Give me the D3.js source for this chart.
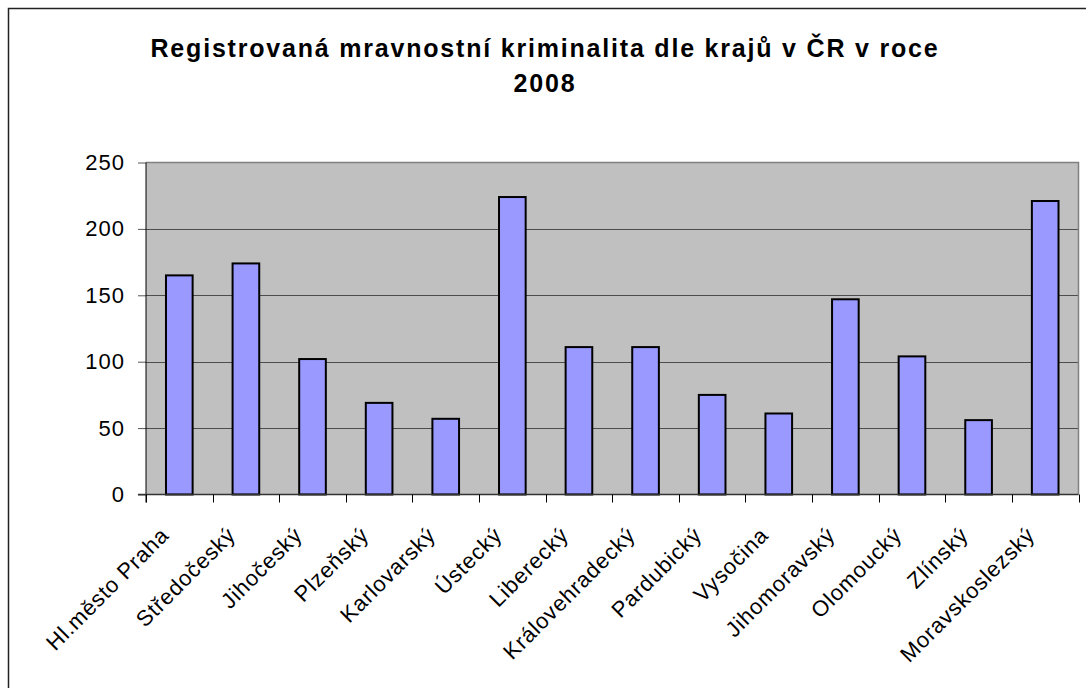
<!DOCTYPE html>
<html>
<head>
<meta charset="utf-8">
<script src="https://cdn.jsdelivr.net/npm/d3@7"></script>
<style>
  body { margin: 0; background: #fff; }
  svg { display: block; }
</style>
</head>
<body>
<div id="chart"></div>
<script>
// data
const regions = ["Hl.město Praha", "Středočeský", "Jihočeský", "Plzeňský", "Karlovarský",
  "Ústecký", "Liberecký", "Královehradecký", "Pardubický", "Vysočina",
  "Jihomoravský", "Olomoucký", "Zlínský", "Moravskoslezský"];
const cases = [165, 174, 102, 69, 57, 224, 111, 111, 75, 61, 147, 104, 56, 221];
const yTicks = [0, 50, 100, 150, 200, 250];
const titleLines = ["Registrovaná mravnostní kriminalita dle krajů v ČR v roce", "2008"];

const width = 1086, height = 688;
const plot = { left: 146, right: 1078.5, top: 162.5, bottom: 494.5 };
const font = "Arial, 'Liberation Sans', sans-serif";

const svg = d3.select("#chart").append("svg")
    .attr("width", width)
    .attr("height", height);

// outer chart frame (runs off the right / bottom edge)
svg.append("rect")
    .attr("x", 8.5).attr("y", 8.5)
    .attr("width", 1100).attr("height", 700)
    .attr("fill", "#fff")
    .attr("stroke", "#222")
    .attr("stroke-width", 1.5);

// title
svg.append("text")
    .attr("text-anchor", "middle")
    .style("font-family", font)
    .style("font-weight", "bold")
    .style("font-size", "25px")
    .style("letter-spacing", "1.8px")
    .selectAll("tspan")
    .data(titleLines)
  .enter().append("tspan")
    .attr("x", 545)
    .attr("y", (d, i) => 57 + i * 35)
    .text(d => d);

var x = d3.scaleBand()
    .domain(regions)
    .range([plot.left, plot.right])
    .paddingInner(0.6)
    .paddingOuter(0.3);

var xCat = d3.scaleBand()
    .domain(regions)
    .range([plot.left, plot.right]);

var y = d3.scaleLinear()
    .domain([0, 250])
    .range([plot.bottom, plot.top]);

// plot area
svg.append("rect")
    .attr("x", plot.left).attr("y", plot.top)
    .attr("width", plot.right - plot.left)
    .attr("height", plot.bottom - plot.top)
    .attr("fill", "#c0c0c0");

// gridlines
svg.append("g")
    .selectAll("line")
    .data(yTicks.filter(t => t > 0 && t < 250))
  .enter().append("line")
    .attr("x1", plot.left).attr("x2", plot.right)
    .attr("y1", d => Math.round(y(d)) + 0.5)
    .attr("y2", d => Math.round(y(d)) + 0.5)
    .attr("stroke", "#4d4d4d")
    .attr("stroke-width", 1);

// top / right border of plot
svg.append("path")
    .attr("d", `M${plot.left},${plot.top}H${plot.right}V${plot.bottom}`)
    .attr("fill", "none")
    .attr("stroke", "#808080")
    .attr("stroke-width", 1.5);

// bars
svg.append("g")
    .selectAll("rect")
    .data(regions)
  .enter().append("rect")
    .attr("x", d => x(d))
    .attr("y", (d, i) => y(cases[i]))
    .attr("width", x.bandwidth())
    .attr("height", (d, i) => y(0) - y(cases[i]))
    .attr("fill", "#9999ff")
    .attr("stroke", "#000")
    .attr("stroke-width", 2);

// y axis
var yAxis = svg.append("g")
    .attr("transform", `translate(${plot.left},0)`)
    .call(d3.axisLeft(y).tickValues(yTicks).tickSize(8).tickPadding(13));
yAxis.select(".domain").remove();
yAxis.selectAll(".tick line").attr("stroke", "#555");
yAxis.selectAll("text")
    .style("font-family", font)
    .style("font-size", "22px")
    .style("letter-spacing", "1px")
    .attr("fill", "#000");

svg.append("line")
    .attr("x1", plot.left).attr("x2", plot.left)
    .attr("y1", plot.top).attr("y2", plot.bottom + 8)
    .attr("stroke", "#000")
    .attr("stroke-width", 1);

// x axis line + boundary ticks
var xAxis = svg.append("g");
xAxis.append("line")
    .attr("x1", plot.left - 8).attr("x2", plot.right)
    .attr("y1", plot.bottom).attr("y2", plot.bottom)
    .attr("stroke", "#333")
    .attr("stroke-width", 1.5);

var bounds = regions.map(r => xCat(r)).concat([plot.right]);
xAxis.selectAll(".bound")
    .data(bounds)
  .enter().append("line")
    .attr("class", "bound")
    .attr("x1", d => Math.round(d) + 0.5).attr("x2", d => Math.round(d) + 0.5)
    .attr("y1", plot.bottom).attr("y2", plot.bottom + 8)
    .attr("stroke", "#000");

// rotated category labels
xAxis.selectAll(".lbl")
    .data(regions)
  .enter().append("text")
    .attr("class", "lbl")
    .attr("transform", d => `translate(${xCat(d) + xCat.bandwidth() / 2 - 9},${plot.bottom + 42}) rotate(-45)`)
    .attr("text-anchor", "end")
    .style("font-family", font)
    .style("font-size", "22px")
    .style("letter-spacing", "0.8px")
    .text(d => d);
</script>
</body>
</html>
